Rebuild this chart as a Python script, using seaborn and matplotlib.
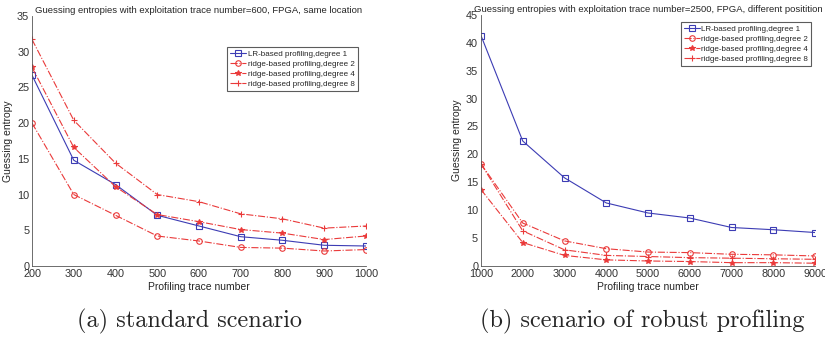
import numpy as np
import pandas as pd
import matplotlib
matplotlib.use("Agg")
import matplotlib.pyplot as plt
import seaborn as sns

## data
x_a = [200, 300, 400, 500, 600, 700, 800, 900, 1000]
lr_a = [26.7, 14.8, 11.4, 7.1, 5.6, 4.1, 3.6, 2.9, 2.8]
ridge2_a = [20.0, 10.0, 7.1, 4.2, 3.5, 2.6, 2.5, 2.1, 2.3]
ridge4_a = [27.8, 16.6, 11.1, 7.2, 6.2, 5.1, 4.6, 3.7, 4.2]
ridge8_a = [31.7, 20.4, 14.4, 10.0, 9.0, 7.3, 6.6, 5.3, 5.6]

x_b = [1000, 2000, 3000, 4000, 5000, 6000, 7000, 8000, 9000]
lr_b = [41.3, 22.4, 15.8, 11.3, 9.5, 8.6, 6.9, 6.5, 6.0]
ridge2_b = [18.3, 7.7, 4.5, 3.1, 2.5, 2.4, 2.1, 2.0, 1.8]
ridge4_b = [13.7, 4.2, 1.9, 1.1, 0.9, 0.8, 0.6, 0.6, 0.5]
ridge8_b = [18.3, 6.3, 2.9, 1.9, 1.7, 1.5, 1.4, 1.3, 1.2]

labels = ["LR-based profiling,degree 1", "ridge-based profiling,degree 2",
          "ridge-based profiling,degree 4", "ridge-based profiling,degree 8"]
titles = ["Guessing entropies with exploitation trace number=600, FPGA, same location",
          "Guessing entropies with exploitation trace number=2500, FPGA, different positition"]
captions = ["(a) standard scenario", "(b) scenario of robust profiling"]

sns.set_theme(style="white")
plt.rcParams['font.family'] = ['Liberation Sans', 'DejaVu Sans']
plt.rcParams['xtick.direction'] = 'in'
plt.rcParams['ytick.direction'] = 'in'

blue = "#3c3cb4"
red = "#ea3a3a"
styles = [dict(color=blue, ls='-', marker='s', mfc='none'),
          dict(color=red, ls='-.', marker='o', mfc='none'),
          dict(color=red, ls='-.', marker='*', mfc=red),
          dict(color=red, ls='-.', marker='+', mfc=red)]

fig = plt.figure(figsize=(8.25, 3.38), dpi=100)
ax_a = fig.add_axes([0.0388, 0.213, 0.4048, 0.740])
ax_b = fig.add_axes([0.583, 0.213, 0.405, 0.743])

panels = [
    (ax_a, x_a, [lr_a, ridge2_a, ridge4_a, ridge8_a], 35, range(0, 36, 5), (0.585, 0.875)),
    (ax_b, x_b, [lr_b, ridge2_b, ridge4_b, ridge8_b], 45, range(0, 46, 5), (0.598, 0.97)),
]

for i, (ax, xs, series, ymax, yt, lpos) in enumerate(panels):
    for lab, ys, st in zip(labels, series, styles):
        df = pd.DataFrame({"x": xs, "y": ys})
        sns.lineplot(data=df, x="x", y="y", ax=ax, label=lab, color=st['color'],
                     linestyle=st['ls'], marker=st['marker'], markersize=4,
                     markerfacecolor=st['mfc'], markeredgecolor=st['color'],
                     markeredgewidth=0.8, linewidth=0.8)
    ax.set_xlim(xs[0], xs[-1])
    ax.set_ylim(0, ymax)
    ax.set_xticks(xs)
    ax.set_yticks(list(yt))
    ax.tick_params(labelsize=7.8, length=3, width=0.6, colors='#333333', pad=2)
    ax.set_xlabel("Profiling trace number", fontsize=7.5, labelpad=2)
    ax.set_ylabel("Guessing entropy", fontsize=7.5, labelpad=3)
    ax.set_title(titles[i], fontsize=6.8, pad=2)
    for s in ['top', 'right']:
        ax.spines[s].set_visible(False)
    for s in ['left', 'bottom']:
        ax.spines[s].set_color('#555555')
        ax.spines[s].set_linewidth(0.6)
    leg = ax.legend(loc='upper left', bbox_to_anchor=lpos, fontsize=5.8,
                    frameon=True, fancybox=False, handlelength=2.0,
                    borderpad=0.35, labelspacing=0.3, handletextpad=0.2,
                    borderaxespad=0)
    leg.get_frame().set_edgecolor('#333333')
    leg.get_frame().set_linewidth(0.8)

fig.text(0.230, 0.05, captions[0], fontsize=17.5, family='cmr10', ha='center', va='center')
fig.text(0.778, 0.05, captions[1], fontsize=17.5, family='cmr10', ha='center', va='center')

fig.savefig("out.png", dpi=100)
